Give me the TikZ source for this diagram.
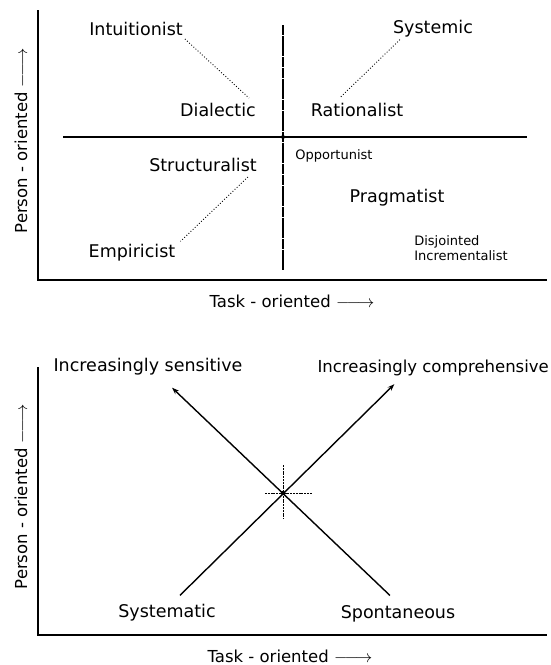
\documentclass[tikz,border=0pt]{standalone}
\usepackage{fontspec}
\setmainfont{DejaVu Sans}
\usetikzlibrary{arrows.meta}
\newcommand{\longarr}{$\relbar\joinrel\longrightarrow$}
\begin{document}
\begin{tikzpicture}[x=1pt,y=-1pt,
  lab/.style={font=\fontsize{17.5}{19}\selectfont, inner sep=0pt},
  small/.style={font=\fontsize{13}{15}\selectfont, inner sep=0pt, align=left},
  axlab/.style={font=\fontsize{16.5}{18}\selectfont, inner sep=0pt},
  axis/.style={line width=2.2pt},
  divider/.style={line width=1.1pt},
  leader/.style={line width=0.9pt, dotted},
  arr/.style={line width=1.4pt, -{Stealth[length=7pt,width=5pt]}},
  cross/.style={line width=1pt, dash pattern=on 2pt off 0.8pt}]
\useasboundingbox (0,0) rectangle (551,665);
% ---------- top panel ----------
\coordinate (t0) at (38,10);
\coordinate (to) at (38,280);
\coordinate (tx) at (547,280);
\draw[axis] (t0) -- (to) -- (tx);
\coordinate (hl) at (63,137);
\coordinate (hr) at (527,137);
\coordinate (vt) at (283,25);
\coordinate (vb) at (283,270);
\coordinate (tc) at (283,137);
\draw[divider] (hl) -- (hr);
\draw[divider, dash pattern=on 10pt off 0.7pt] (vt) -- (vb);
\fill (tc) circle (2pt);

\node[lab] (int) at (136,29) {Intuitionist};
\node[lab] (dia) at (218,110) {Dialectic};
\node[lab] (str) at (203,165) {Structuralist};
\node[lab] (emp) at (132,253) {Empiricist};
\node[lab] (sysm) at (433,29) {Systemic};
\node[lab] (rat) at (357,110) {Rationalist};
\node[small] (opp) at (334,156) {Opportunist};
\node[lab] (pra) at (397,198) {Pragmatist};
\node[small] (dis) at (461,248) {Disjointed\\Incrementalist};

\draw[leader] ([shift={(2,3)}]int.south east) -- ([shift={(-7,-5)}]dia.north east);
\draw[leader] ([shift={(-9,5)}]str.south east) -- ([shift={(5,-3)}]emp.north east);
\draw[leader] ([shift={(7,2)}]sysm.south west) -- ([shift={(30,-6)}]rat.north west);

\node[axlab, rotate=90] (ty) at (21,141) {Person - oriented \longarr};
\node[axlab] (txl) at (292,301) {Task - oriented \longarr};

% ---------- bottom panel ----------
\coordinate (b0) at (38,367);
\coordinate (bo) at (38,635);
\coordinate (bx) at (547,635);
\draw[axis] (b0) -- (bo) -- (bx);

\node[lab] (sen) at (148,367) {Increasingly sensitive};
\node[lab, font=\fontsize{16.5}{18}\selectfont, anchor=east] (com) at (549,368) {Increasingly comprehensive};
\node[lab] (sma) at (167,613) {Systematic};
\node[lab] (spo) at (398,614) {Spontaneous};

\coordinate (bc) at (283,493);
\draw[cross] (283,465) -- (283,519);
\draw[cross] (265,493) -- (312,493);
\fill (bc) circle (2.2pt);

\draw[arr] ([shift={(13,-9)}]sma.north) -- ([shift={(77,8)}]com.south west);
\draw[arr] ([shift={(-8,-10)}]spo.north) -- ([shift={(24,12)}]sen.south);

\node[axlab, rotate=90] (by) at (21,497) {Person - oriented \longarr};
\node[axlab] (bxl) at (290,656) {Task - oriented \longarr};
\end{tikzpicture}
\end{document}
